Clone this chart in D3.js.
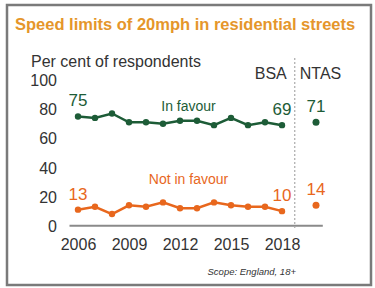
<!DOCTYPE html>
<html>
<head>
<meta charset="utf-8">
<script src="https://cdn.jsdelivr.net/npm/d3@7"></script>
<style>
  body { margin: 0; background: #fff; }
  svg text { font-family: "Liberation Sans", Arial, sans-serif; }
</style>
</head>
<body>
<svg id="chart" width="375" height="288"></svg>
<script>
// data
const years = [2006, 2007, 2008, 2009, 2010, 2011, 2012, 2013, 2014, 2015, 2016, 2017, 2018];
const inFavour = [75, 74, 77, 71, 71, 70, 72, 72, 69, 74, 69, 71, 69];
const notInFavour = [11, 13, 8, 14, 13, 16, 12, 12, 16, 14, 13, 13, 10];
const ntasInFavour = 71;
const ntasNotInFavour = 14;
const inFavourEndLabels = [75, 69];
const notInFavourEndLabels = [13, 10];
const yTicks = [0, 20, 40, 60, 80, 100];
const xTicks = [2006, 2009, 2012, 2015, 2018];

const green = "#1d5c37";
const orange = "#e8671d";
const grey = "#333";

let svg = d3.select("#chart");

// frame
svg.append("rect")
  .attr("x", 7).attr("y", 5)
  .attr("width", 364).attr("height", 280)
  .attr("fill", "none")
  .attr("stroke", "#7a7a7a")
  .attr("stroke-width", 2.5);

svg.append("text")
  .attr("x", 15).attr("y", 30)
  .attr("fill", "#e5962b")
  .style("font-weight", "bold")
  .style("font-size", "16.5px")
  .text("Speed limits of 20mph in residential streets");

svg.append("text")
  .attr("x", 31).attr("y", 67)
  .attr("fill", grey)
  .style("font-size", "16px")
  .text("Per cent of respondents");

// scales
var x = d3.scaleLinear().domain([2006, 2018]).range([78, 282]);
var y = d3.scaleLinear().domain([0, 100]).range([225.7, 80]);
let ntasX = x(2020);

// y axis
let yAxis = svg.append("g")
  .attr("transform", "translate(57,0)")
  .call(d3.axisLeft(y).tickValues(yTicks).tickSize(0).tickPadding(0));
yAxis.select(".domain").remove();
yAxis.selectAll("text")
  .attr("fill", grey)
  .attr("dy", "0.35em")
  .style("font-size", "16px")
  .style("font-family", "Liberation Sans, Arial, sans-serif");

// x axis
let xAxis = svg.append("g")
  .attr("transform", "translate(0," + y(0) + ")")
  .call(d3.axisBottom(x).tickValues(xTicks).tickFormat(d3.format("d")).tickSize(0));
xAxis.select(".domain").remove();
xAxis.selectAll("text")
  .attr("y", 19)
  .attr("dy", "0.35em")
  .attr("fill", grey)
  .style("font-size", "16px")
  .style("font-family", "Liberation Sans, Arial, sans-serif");

svg.append("line")
  .attr("x1", x(2005.5)).attr("x2", x(2020.4))
  .attr("y1", y(0)).attr("y2", y(0))
  .attr("stroke", "#8a8a8a")
  .attr("stroke-width", 2);

// BSA | NTAS divider
let divX = x(2018.75);
svg.append("line")
  .attr("x1", divX).attr("x2", divX)
  .attr("y1", 58).attr("y2", y(0) + 3)
  .attr("stroke", "#aaa")
  .attr("stroke-width", 1.2)
  .attr("stroke-dasharray", "2,2");

svg.append("text")
  .attr("x", divX - 8).attr("y", 73).attr("dy", "0.35em")
  .attr("text-anchor", "end")
  .attr("fill", grey)
  .style("font-size", "16px")
  .text("BSA");
svg.append("text")
  .attr("x", divX + 5).attr("y", 73).attr("dy", "0.35em")
  .attr("fill", grey)
  .style("font-size", "16px")
  .text("NTAS");

function drawSeries(values, ntasValue, endLabels, colour, name, nameValue) {
  let pts = years.map(function(yr, i) { return {year: yr, value: values[i]}; });
  let line = d3.line()
    .x(function(d) { return x(d.year); })
    .y(function(d) { return y(d.value); });

  svg.append("path")
    .datum(pts)
    .attr("d", line)
    .attr("fill", "none")
    .attr("stroke", colour)
    .attr("stroke-width", 2.5);

  svg.append("g").selectAll("circle")
    .data(pts)
    .enter().append("circle")
      .attr("cx", function(d) { return x(d.year); })
      .attr("cy", function(d) { return y(d.value); })
      .attr("r", 3.2)
      .attr("fill", colour);

  svg.append("circle")
    .attr("cx", ntasX)
    .attr("cy", y(ntasValue))
    .attr("r", 3.5)
    .attr("fill", colour);

  let labels = [
    {x: x(years[0]), y: y(values[0]), text: endLabels[0]},
    {x: x(years[years.length - 1]), y: y(values[values.length - 1]), text: endLabels[1]},
    {x: ntasX, y: y(ntasValue), text: ntasValue}
  ];
  svg.append("g").selectAll("text")
    .data(labels)
    .enter().append("text")
      .attr("x", function(d) { return d.x; })
      .attr("y", function(d) { return d.y - 16; })
      .attr("dy", "0.35em")
      .attr("text-anchor", "middle")
      .attr("fill", colour)
      .style("font-size", "17px")
      .text(function(d) { return d.text; });

  svg.append("text")
    .attr("x", x(2012.5))
    .attr("y", y(nameValue))
    .attr("dy", "0.35em")
    .attr("text-anchor", "middle")
    .attr("fill", colour)
    .style("font-size", "14px")
    .text(name);
}

drawSeries(inFavour, ntasInFavour, inFavourEndLabels, green, "In favour", 82);
drawSeries(notInFavour, ntasNotInFavour, notInFavourEndLabels, orange, "Not in favour", 32);

svg.append("text")
  .attr("x", 296).attr("y", 272).attr("dy", "0.35em")
  .attr("text-anchor", "end")
  .attr("fill", grey)
  .style("font-size", "9.5px")
  .style("font-style", "italic")
  .text("Scope: England, 18+");
</script>
</body>
</html>
